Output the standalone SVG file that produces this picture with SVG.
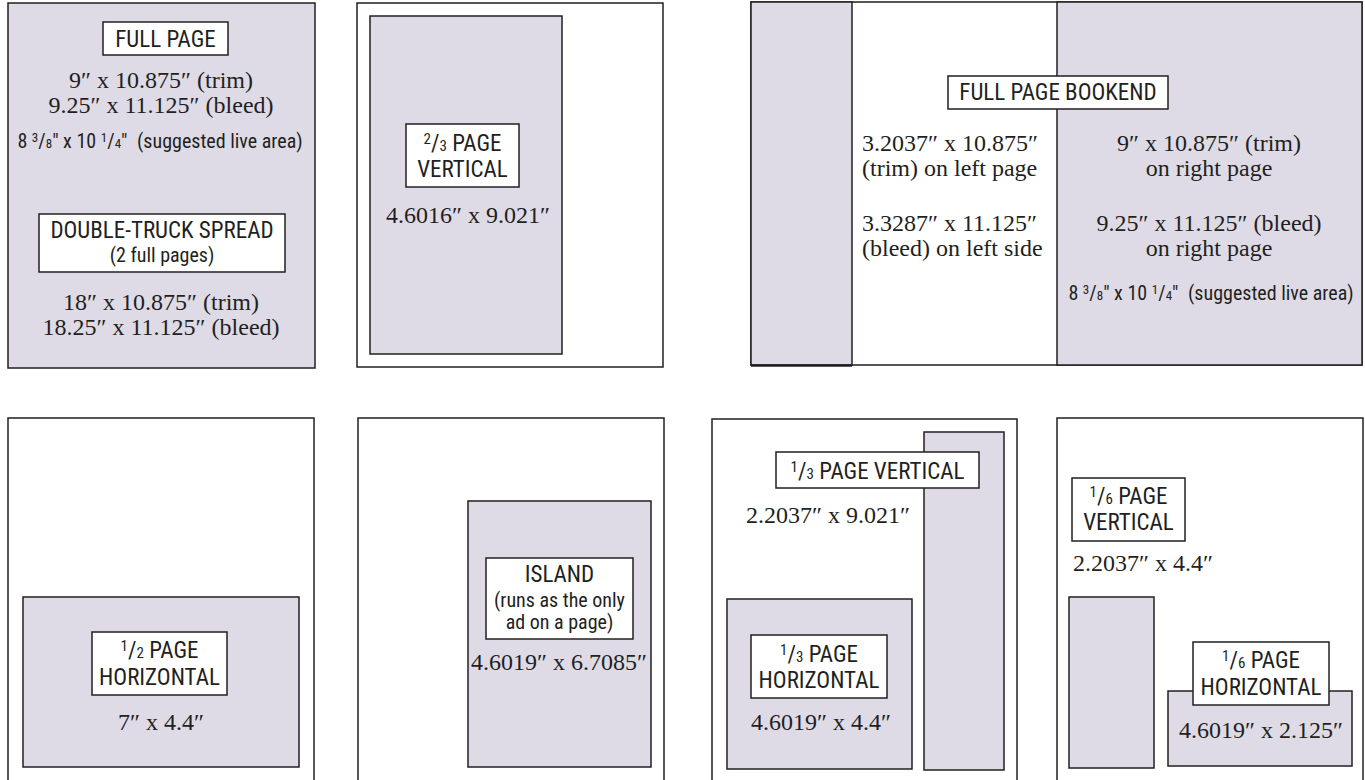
<svg xmlns="http://www.w3.org/2000/svg" width="1365" height="780" viewBox="0 0 1365 780">
<style>
.bg{fill:#ffffff}
.pg{fill:#ffffff;stroke:#231f20;stroke-width:1.5}
.ad{fill:#dedbe7;stroke:#231f20;stroke-width:1.5}
.lb{fill:#ffffff;stroke:#231f20;stroke-width:1.5}
.sans{font-family:'Liberation Sans Narrow','Arial Narrow','Roboto Condensed','DejaVu Sans Condensed','Liberation Sans',sans-serif;font-stretch:condensed;font-weight:400;fill:#231f20}
.t23{font-size:23px}
.t20{font-size:20px}
.serif{font-family:'Liberation Serif','Times New Roman',serif;font-size:24px;fill:#231f20}
.m{text-anchor:middle}
</style>
<rect class="bg" x="0" y="0" width="1365" height="780"/>

<g id="full-page">
<rect class="ad" x="8" y="3" width="307" height="365"/>
<rect class="lb" x="103" y="22" width="125" height="33"/>
<text class="sans t23 m" x="165.5" y="47">FULL PAGE</text>
<text class="serif m" x="161" y="88">9″ x 10.875″ (trim)</text>
<text class="serif m" x="161" y="113">9.25″ x 11.125″ (bleed)</text>
<text class="sans t20 m" x="160" y="148">8 <tspan font-size="13" dy="-6">3</tspan><tspan dy="6">/</tspan><tspan font-size="13">8</tspan>″ x 10 <tspan font-size="13" dy="-6">1</tspan><tspan dy="6">/</tspan><tspan font-size="13">4</tspan>″ <tspan dx="5">(suggested live area)</tspan></text>
<rect class="lb" x="39" y="214" width="246" height="58"/>
<text class="sans t23 m" x="162" y="238">DOUBLE-TRUCK SPREAD</text>
<text class="sans t20 m" x="162" y="262">(2 full pages)</text>
<text class="serif m" x="161" y="310">18″ x 10.875″ (trim)</text>
<text class="serif m" x="161" y="335">18.25″ x 11.125″ (bleed)</text>
</g>

<g id="two-thirds-vertical">
<rect class="pg" x="357" y="3" width="306" height="364"/>
<rect class="ad" x="370" y="16" width="192" height="338"/>
<rect class="lb" x="406" y="124" width="113" height="63"/>
<text class="sans t23 m" x="462.5" y="151"><tspan font-size="15" dy="-7">2</tspan><tspan dy="7">/</tspan><tspan font-size="15">3</tspan> PAGE</text>
<text class="sans t23 m" x="462.5" y="177">VERTICAL</text>
<text class="serif m" x="468" y="223">4.6016″ x 9.021″</text>
</g>

<g id="full-page-bookend">
<rect class="pg" x="751" y="2" width="611" height="363"/>
<rect class="ad" x="751" y="2" width="101" height="363"/>
<rect class="ad" x="1057" y="2" width="305" height="363"/>
<line x1="751" y1="365.5" x2="852" y2="365.5" stroke="#231f20" stroke-width="2.5"/>
<rect class="lb" x="948" y="76" width="220" height="33"/>
<text class="sans t23 m" x="1058" y="100">FULL PAGE BOOKEND</text>
<text class="serif" x="862" y="151">3.2037″ x 10.875″</text>
<text class="serif" x="862" y="176">(trim) on left page</text>
<text class="serif" x="862" y="231">3.3287″ x 11.125″</text>
<text class="serif" x="862" y="256">(bleed) on left side</text>
<text class="serif m" x="1209" y="151">9″ x 10.875″ (trim)</text>
<text class="serif m" x="1209" y="176">on right page</text>
<text class="serif m" x="1209" y="231">9.25″ x 11.125″ (bleed)</text>
<text class="serif m" x="1209" y="256">on right page</text>
<text class="sans t20 m" x="1211" y="300">8 <tspan font-size="13" dy="-6">3</tspan><tspan dy="6">/</tspan><tspan font-size="13">8</tspan>″ x 10 <tspan font-size="13" dy="-6">1</tspan><tspan dy="6">/</tspan><tspan font-size="13">4</tspan>″ <tspan dx="5">(suggested live area)</tspan></text>
</g>

<g id="half-page-horizontal">
<rect class="pg" x="8" y="418" width="306" height="400"/>
<rect class="ad" x="23" y="597" width="276" height="170"/>
<rect class="lb" x="92" y="632" width="135" height="63"/>
<text class="sans t23 m" x="159.5" y="658"><tspan font-size="15" dy="-7">1</tspan><tspan dy="7">/</tspan><tspan font-size="15">2</tspan> PAGE</text>
<text class="sans t23 m" x="159.5" y="685">HORIZONTAL</text>
<text class="serif m" x="161" y="730">7″ x 4.4″</text>
</g>

<g id="island">
<rect class="pg" x="358" y="418" width="306" height="400"/>
<rect class="ad" x="468" y="501" width="183" height="266"/>
<rect class="lb" x="486" y="558" width="147" height="81"/>
<text class="sans t23 m" x="559.5" y="582">ISLAND</text>
<text class="sans t20 m" x="559.5" y="607">(runs as the only</text>
<text class="sans t20 m" x="559.5" y="629">ad on a page)</text>
<text class="serif m" x="559" y="670">4.6019″ x 6.7085″</text>
</g>

<g id="third-page">
<rect class="pg" x="712" y="419" width="305" height="400"/>
<rect class="ad" x="924" y="432" width="80" height="338"/>
<rect class="ad" x="727" y="599" width="185" height="170"/>
<rect class="lb" x="776" y="452" width="203" height="36"/>
<text class="sans t23 m" x="877.5" y="479"><tspan font-size="15" dy="-7">1</tspan><tspan dy="7">/</tspan><tspan font-size="15">3</tspan> PAGE VERTICAL</text>
<text class="serif m" x="828" y="523">2.2037″ x 9.021″</text>
<rect class="lb" x="751" y="635" width="136" height="63"/>
<text class="sans t23 m" x="819" y="662"><tspan font-size="15" dy="-7">1</tspan><tspan dy="7">/</tspan><tspan font-size="15">3</tspan> PAGE</text>
<text class="sans t23 m" x="819" y="688">HORIZONTAL</text>
<text class="serif m" x="821" y="730">4.6019″ x 4.4″</text>
</g>

<g id="sixth-page">
<rect class="pg" x="1057" y="418" width="306" height="400"/>
<rect class="lb" x="1072" y="478" width="113" height="63"/>
<text class="sans t23 m" x="1128.5" y="504"><tspan font-size="15" dy="-7">1</tspan><tspan dy="7">/</tspan><tspan font-size="15">6</tspan> PAGE</text>
<text class="sans t23 m" x="1128.5" y="530">VERTICAL</text>
<text class="serif" x="1073" y="571">2.2037″ x 4.4″</text>
<rect class="ad" x="1069" y="597" width="85" height="171"/>
<rect class="ad" x="1168" y="691" width="184" height="75"/>
<rect class="lb" x="1193" y="642" width="136" height="63"/>
<text class="sans t23 m" x="1261" y="668"><tspan font-size="15" dy="-7">1</tspan><tspan dy="7">/</tspan><tspan font-size="15">6</tspan> PAGE</text>
<text class="sans t23 m" x="1261" y="695">HORIZONTAL</text>
<text class="serif m" x="1261" y="738">4.6019″ x 2.125″</text>
</g>
</svg>
